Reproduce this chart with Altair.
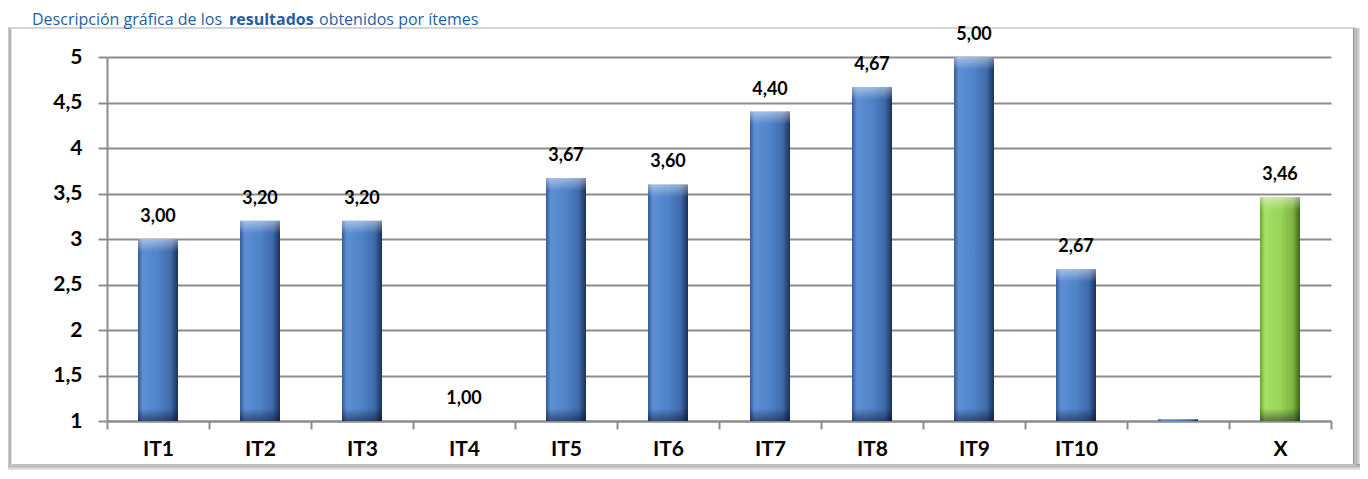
import altair as alt
import pandas as pd

categories = ["IT1", "IT2", "IT3", "IT4", "IT5", "IT6", "IT7", "IT8", "IT9", "IT10", " ", "X"]
values = [3.00, 3.20, 3.20, 1.00, 3.67, 3.60, 4.40, 4.67, 5.00, 2.67, 1.02, 3.46]
labels = ["3,00", "3,20", "3,20", "1,00", "3,67", "3,60", "4,40", "4,67", "5,00", "2,67", "", "3,46"]
groups = ["item"] * 11 + ["media"]
y_ticks = [1, 1.5, 2, 2.5, 3, 3.5, 4, 4.5, 5]

title_parts = ["Descripción gráfica de los", "resultados", "obtenidos por ítemes"]

df = pd.DataFrame({"cat": categories, "v": values, "lab": labels, "g": groups})

W, H = 1224, 364
FONT = "Lato"
GRID = "#8c8c8c"

blue_grad = alt.Gradient(
    gradient="linear", x1=0, x2=1, y1=0, y2=0,
    stops=[
        alt.GradientStop(offset=0, color="#35599a"),
        alt.GradientStop(offset=0.12, color="#5d8fd6"),
        alt.GradientStop(offset=0.5, color="#5083c8"),
        alt.GradientStop(offset=0.82, color="#3f6aaa"),
        alt.GradientStop(offset=1, color="#1a3257"),
    ],
)
green_grad = alt.Gradient(
    gradient="linear", x1=0, x2=1, y1=0, y2=0,
    stops=[
        alt.GradientStop(offset=0, color="#6aa236"),
        alt.GradientStop(offset=0.12, color="#a6e068"),
        alt.GradientStop(offset=0.5, color="#9ad65a"),
        alt.GradientStop(offset=0.82, color="#7fb443"),
        alt.GradientStop(offset=1, color="#3f6419"),
    ],
)
cap_top = alt.Gradient(
    gradient="linear", x1=0, x2=0, y1=0, y2=1,
    stops=[alt.GradientStop(offset=0, color="rgba(255,255,255,0.45)"),
           alt.GradientStop(offset=1, color="rgba(255,255,255,0)")],
)
cap_bottom = alt.Gradient(
    gradient="linear", x1=0, x2=0, y1=0, y2=1,
    stops=[alt.GradientStop(offset=0, color="rgba(0,0,20,0)"),
           alt.GradientStop(offset=1, color="rgba(0,0,20,0.45)")],
)
shadow_v = alt.Gradient(
    gradient="linear", x1=0, x2=1, y1=0, y2=0,
    stops=[alt.GradientStop(offset=0, color="#8a8a8a"), alt.GradientStop(offset=1, color="#e6e6e6")],
)
shadow_h = alt.Gradient(
    gradient="linear", x1=0, x2=0, y1=0, y2=1,
    stops=[alt.GradientStop(offset=0, color="#9a9a9a"), alt.GradientStop(offset=1, color="#ececec")],
)
left_edge = alt.Gradient(
    gradient="linear", x1=0, x2=1, y1=0, y2=0,
    stops=[alt.GradientStop(offset=0, color="#d8d8d8"), alt.GradientStop(offset=0.5, color="#a8a8a8"),
           alt.GradientStop(offset=1, color="#f2f2f2")],
)

x_enc = alt.X(
    "cat:N", sort=categories, title=None,
    scale=alt.Scale(paddingInner=0, paddingOuter=0),
    axis=alt.Axis(
        labelFont=FONT, labelFontSize=21, labelFontWeight="bold", labelColor="#000000",
        labelAngle=0, labelPadding=9, tickBand="extent", tickSize=8, tickColor=GRID,
        tickWidth=2, domainColor=GRID, domainWidth=2, grid=False,
    ),
)
y_scale = alt.Scale(domain=[1, 5], nice=False, zero=False)
y_axis = alt.Axis(
    values=y_ticks, format=".1~f", labelExpr="replace(datum.label, '.', ',')",
    labelFont=FONT, labelFontSize=21, labelFontWeight="bold", labelColor="#000000",
    labelPadding=16, tickSize=9, tickColor=GRID, tickWidth=2,
    domainColor=GRID, domainWidth=2, grid=True, gridColor=GRID, gridWidth=2,
    title=None,
)

base = alt.Chart(df).transform_calculate(base="1")
one = pd.DataFrame({"k": [0]})

FT = -29
frame = alt.Chart(one).mark_rect(fill=None, stroke="#c8c8c8", strokeWidth=1.5).encode(
    x=alt.value(-98), x2=alt.value(1248), y=alt.value(FT), y2=alt.value(408)
)
frame_left = alt.Chart(one).mark_rect(color=left_edge).encode(
    x=alt.value(-99), x2=alt.value(-95), y=alt.value(FT), y2=alt.value(408)
)
frame_right = alt.Chart(one).mark_rect(color=shadow_v).encode(
    x=alt.value(1246), x2=alt.value(1253), y=alt.value(FT), y2=alt.value(413)
)
frame_bottom = alt.Chart(one).mark_rect(color=shadow_h).encode(
    x=alt.value(-99), x2=alt.value(1253), y=alt.value(407), y2=alt.value(413)
)

bars_blue = base.transform_filter("datum.g == 'item'").mark_bar(
    size=40, color=blue_grad
).encode(x=x_enc, y=alt.Y("v:Q", scale=y_scale, axis=y_axis), y2="base:Q")

bars_green = base.transform_filter("datum.g == 'media'").mark_bar(
    size=40, color=green_grad
).encode(x=alt.X("cat:N", sort=categories), y=alt.Y("v:Q"), y2="base:Q")

# bevel highlights (about 12 px deep at top and bottom of each bar)
caps = base.transform_filter("datum.v > 1.3").transform_calculate(
    top_in="datum.v - 0.14", bot_in="1.14"
)
top_caps = caps.mark_bar(size=40, color=cap_top).encode(
    x=alt.X("cat:N", sort=categories), y=alt.Y("v:Q"), y2="top_in:Q"
)
bottom_caps = caps.mark_bar(size=40, color=cap_bottom).encode(
    x=alt.X("cat:N", sort=categories), y=alt.Y("bot_in:Q"), y2="base:Q"
)

text = base.mark_text(
    font=FONT, fontSize=18, fontWeight="bold", color="#000000", baseline="alphabetic", dy=-17
).encode(x=alt.X("cat:N", sort=categories), y=alt.Y("v:Q"), text="lab:N")

title_layers = []
title_x = [-75, 122, 212]
title_w = ["normal", "bold", "normal"]
for part, xx, ww in zip(title_parts, title_x, title_w):
    title_layers.append(
        alt.Chart(pd.DataFrame({"t": [part]})).mark_text(
            font="Open Sans", fontSize=16, fontWeight=ww, color="#1f5fa6",
            align="left", baseline="alphabetic"
        ).encode(x=alt.value(xx), y=alt.value(-32), text="t:N")
    )

chart = alt.layer(
    frame_right, frame_bottom, frame, frame_left, bars_blue, bars_green,
    top_caps, bottom_caps, text, *title_layers
).properties(
    width=W, height=H,
    autosize=alt.AutoSizeParams(type="none"),
    padding={"left": 99, "top": 49, "right": 29, "bottom": 50},
).configure_view(stroke=None)

chart.save("out.html", embed_options={"renderer": "svg", "actions": False})
